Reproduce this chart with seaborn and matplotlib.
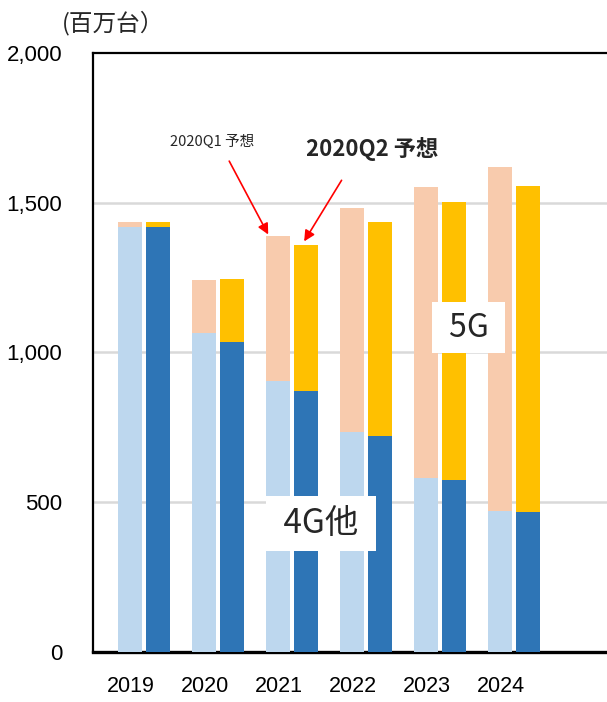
import numpy as np
import pandas as pd
import matplotlib
matplotlib.use("Agg")
import matplotlib.pyplot as plt
import seaborn as sns

# ---- data ----
years = ["2019", "2020", "2021", "2022", "2023", "2024"]
q1_total = [1436, 1242, 1390, 1481, 1552, 1620]
q1_4g = [1420, 1066, 904, 736, 582, 470]
q2_total = [1437, 1247, 1358, 1436, 1503, 1555]
q2_4g = [1420, 1036, 871, 722, 574, 468]
forecasts = ["2020Q1", "2020Q2"]
yticks = [0, 500, 1000, 1500, 2000]
ytick_labels = ["0", "500", "1,000", "1,500", "2,000"]

df = pd.DataFrame({
    "year": years * 2,
    "forecast": [forecasts[0]] * 6 + [forecasts[1]] * 6,
    "total": q1_total + q2_total,
    "g4": q1_4g + q2_4g,
})

sns.set_theme(style="white")
plt.rcParams["font.family"] = ["Liberation Sans", "Noto Sans CJK JP", "DejaVu Sans"]

PEACH = "#F8CBAD"
GOLD = "#FFC000"
LBLUE = "#BDD7EE"
DBLUE = "#2E75B6"

fig = plt.figure(figsize=(6.07, 7.02), dpi=100)
ax = fig.add_axes([93 / 607, 50 / 702, (607 - 93) / 607, (652 - 53) / 702])

sns.barplot(data=df, x="year", y="total", hue="forecast", order=years,
            hue_order=forecasts, palette=[PEACH, GOLD], width=0.756, gap=0.143,
            saturation=1, linewidth=0, legend=False, ax=ax, zorder=2)
sns.barplot(data=df, x="year", y="g4", hue="forecast", order=years,
            hue_order=forecasts, palette=[LBLUE, DBLUE], width=0.756, gap=0.143,
            saturation=1, linewidth=0, legend=False, ax=ax, zorder=3)

ax.set_xlim(-0.69, 6.26)
ax.set_ylim(0, 2000)
ax.set_yticks(yticks, labels=ytick_labels)
ax.set_xticks(np.arange(len(years)) - 0.18, labels=years)
ax.tick_params(axis="y", length=0, pad=22, labelsize=16, colors="black")
ax.tick_params(axis="x", length=0, pad=17, labelsize=15.5, colors="black")
ax.set_xlabel("")
ax.set_ylabel("")

for y in [500, 1000, 1500]:
    ax.axhline(y, color="#D9D9D9", lw=1.8, zorder=1)

for side in ["left", "top"]:
    ax.spines[side].set_visible(True)
    ax.spines[side].set_color("black")
    ax.spines[side].set_linewidth(1.6)
ax.spines["bottom"].set_color("black")
ax.spines["bottom"].set_linewidth(2.4)
ax.spines["right"].set_visible(False)

# unit label
fig.text(62 / 607, 1 - 23 / 702, "(百万台）", fontsize=17, ha="left", va="center",
         family=["Noto Sans CJK JP", "DejaVu Sans"])

# annotations
ax.text(0.918, 1702, "2020Q1 予想", fontsize=10.5, ha="center", va="center",
        family=["Noto Sans CJK JP", "DejaVu Sans"])
ax.text(3.08, 1678, "2020Q2 予想", fontsize=16, fontweight="bold", ha="center",
        va="center", family=["Noto Sans CJK JP", "DejaVu Sans"])
ax.annotate("", xy=(1.679, 1394), xytext=(1.152, 1639),
            arrowprops=dict(arrowstyle="-|>", color="red", lw=1.2,
                            mutation_scale=16, shrinkA=0, shrinkB=0), zorder=5)
ax.annotate("", xy=(2.165, 1371), xytext=(2.671, 1575),
            arrowprops=dict(arrowstyle="-|>", color="red", lw=1.2,
                            mutation_scale=16, shrinkA=0, shrinkB=0), zorder=5)

# boxed labels
box = dict(boxstyle="square,pad=0.3", facecolor="white", edgecolor="none")
ax.text(4.39, 1083, " 5G ", fontsize=23, ha="center", va="center", bbox=box,
        family=["Noto Sans CJK JP", "DejaVu Sans"], zorder=6)
ax.text(2.39, 430, " 4G他 ", fontsize=24, ha="center", va="center", bbox=box,
        family=["Noto Sans CJK JP", "DejaVu Sans"], zorder=6)

fig.savefig("out.png", dpi=100)
